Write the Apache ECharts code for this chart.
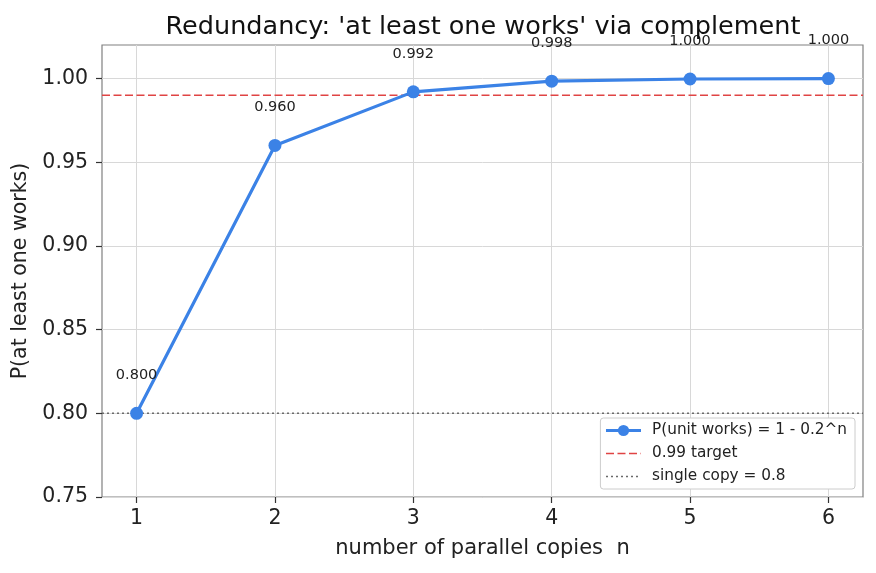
<!DOCTYPE html>
<html>
<head>
<meta charset="utf-8">
<script src="https://cdn.jsdelivr.net/npm/echarts@6/dist/echarts.min.js"></script>
<style>html,body{margin:0;padding:0;background:#fff}#c{width:876px;height:573px}</style>
</head>
<body>
<div id="c"></div>
<script>
const copies = [1, 2, 3, 4, 5, 6];
const pWorks = [0.8, 0.96, 0.992, 0.9984, 0.99968, 0.999936];
const pointLabels = ['0.800', '0.960', '0.992', '0.998', '1.000', '1.000'];
const xTicks = [1, 2, 3, 4, 5, 6];
const yTicks = [0.75, 0.80, 0.85, 0.90, 0.95, 1.00];
const target = 0.99;
const single = 0.8;
const xRange = [0.75, 6.25];
const yRange = [0.75, 1.02];

const FONT = 'DejaVu Sans';
const chart = echarts.init(document.getElementById('c'), null, {renderer: 'canvas'});
chart.setOption({
  animation: false,
  backgroundColor: '#fff',
  title: {
    text: "Redundancy: 'at least one works' via complement",
    left: 478, textAlign: 'center', top: 9,
    textStyle: {fontFamily: FONT, fontSize: 25.5, fontWeight: 'normal', color: '#111'}
  },
  grid: {left: 102, right: 13, top: 45, bottom: 76, show: true, borderColor: '#808080', borderWidth: 1.2, backgroundColor: '#fff'},
  legend: {
    orient: 'vertical', right: 21, bottom: 84,
    backgroundColor: '#fff', borderColor: '#cccccc', borderWidth: 1, borderRadius: 3,
    padding: [5, 8, 5, 4], itemGap: 8, itemWidth: 35, itemHeight: 14,
    textStyle: {fontFamily: FONT, fontSize: 15.3, color: '#222', padding: [0, 0, 0, 6]},
    data: [
      {name: 'P(unit works) = 1 - 0.2^n', lineStyle: {width: 3.2}},
      {name: '0.99 target', itemStyle: {opacity: 0}, lineStyle: {width: 1.6}},
      {name: 'single copy = 0.8', itemStyle: {opacity: 0}, lineStyle: {width: 1.4}}
    ]
  },
  xAxis: {
    type: 'value', min: xRange[0], max: xRange[1],
    name: 'number of parallel copies  n', nameLocation: 'middle', nameGap: 41,
    nameTextStyle: {fontFamily: FONT, fontSize: 21, color: '#222'},
    axisLine: {show: false},
    axisTick: {show: true, customValues: xTicks, length: 6, lineStyle: {color: '#333', width: 1.2}},
    axisLabel: {customValues: xTicks, fontFamily: FONT, fontSize: 20.5, color: '#222', margin: 11,
      formatter: v => String(Math.round(v))},
    splitLine: {show: true, lineStyle: {color: '#d8d8d8', width: 1}}
  },
  yAxis: {
    type: 'value', min: yRange[0], max: yRange[1],
    name: 'P(at least one works)', nameLocation: 'middle', nameGap: 65,
    nameTextStyle: {fontFamily: FONT, fontSize: 20.5, color: '#222'},
    axisLine: {show: false},
    axisTick: {show: true, customValues: yTicks, length: 6, lineStyle: {color: '#333', width: 1.2}},
    axisLabel: {customValues: yTicks, fontFamily: FONT, fontSize: 20.5, color: '#222', margin: 14,
      formatter: v => v.toFixed(2)},
    splitLine: {show: true, lineStyle: {color: '#d8d8d8', width: 1}}
  },
  series: [
    {
      name: 'single copy = 0.8', type: 'line',
      data: [[xRange[0], single], [xRange[1], single]],
      symbol: 'circle', showSymbol: false, z: 2,
      lineStyle: {color: '#6a6a6a', width: 1.4, type: [2, 3]},
      itemStyle: {color: '#6a6a6a'}
    },
    {
      name: '0.99 target', type: 'line',
      data: [[xRange[0], target], [xRange[1], target]],
      symbol: 'circle', showSymbol: false, z: 2,
      lineStyle: {color: '#e04444', width: 1.6, type: [8, 3.5]},
      itemStyle: {color: '#e04444'}
    },
    {
      name: 'P(unit works) = 1 - 0.2^n', type: 'line',
      data: copies.map((c, i) => [c, pWorks[i]]),
      symbol: 'circle', symbolSize: 13, z: 3,
      lineStyle: {color: '#3b82e6', width: 3.2},
      itemStyle: {color: '#3b82e6'},
      label: {
        show: true, position: 'top', distance: 24,
        fontFamily: FONT, fontSize: 14.5, color: '#222',
        formatter: p => pointLabels[p.dataIndex]
      }
    }
  ]
});
</script>
</body>
</html>
